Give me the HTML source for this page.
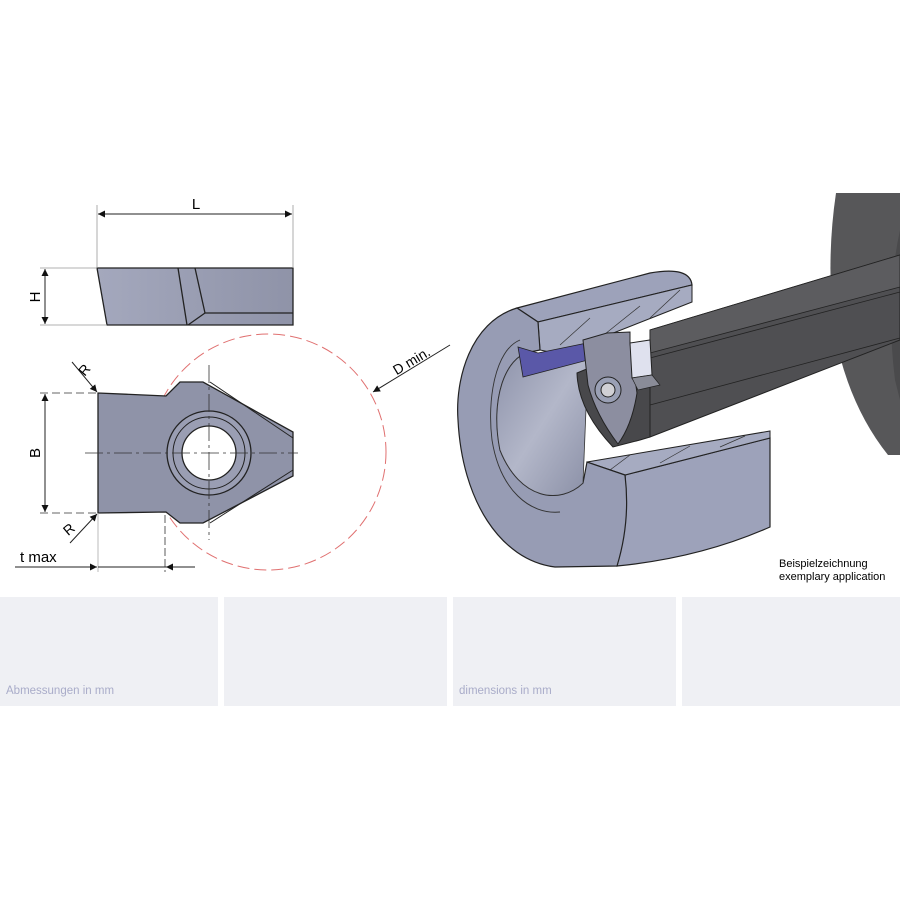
<!DOCTYPE html>
<html><head><meta charset="utf-8"><style>
html,body{margin:0;padding:0;background:#fff;width:900px;height:900px;overflow:hidden}
svg{display:block}
text{font-family:"Liberation Sans",sans-serif}
</style></head><body>
<svg width="900" height="900" viewBox="0 0 900 900" xmlns="http://www.w3.org/2000/svg">
<defs>
<marker id="a" viewBox="0 0 10 10" refX="10" refY="5" markerWidth="9" markerHeight="7" orient="auto-start-reverse" markerUnits="userSpaceOnUse"><path d="M0,0 L10,5 L0,10z" fill="#111"/></marker>
<linearGradient id="ins" x1="0" x2="1"><stop offset="0" stop-color="#a4a8bd"/><stop offset="1" stop-color="#8f93a8"/></linearGradient>
<linearGradient id="bore" x1="0" y1="0" x2="1" y2="1"><stop offset="0" stop-color="#8d92aa"/><stop offset=".5" stop-color="#b3b7c9"/><stop offset="1" stop-color="#8a8fa6"/></linearGradient>
</defs>
<!-- side view -->
<g stroke="#222" stroke-width="1.3">
<polygon points="97,268 293,268 293,325 107,325" fill="url(#ins)"/>
<polyline points="178,268 187,325" fill="none"/>
<polyline points="195,268 205,313 293,313" fill="none"/>
<line x1="205" y1="313" x2="188" y2="325"/>
</g>
<g stroke="#999" stroke-width=".8">
<line x1="97" y1="205" x2="97" y2="268"/><line x1="293" y1="205" x2="293" y2="268"/>
<line x1="40" y1="268" x2="97" y2="268"/><line x1="40" y1="325" x2="107" y2="325"/>
</g>
<g stroke="#222" stroke-width="1" fill="none">
<line x1="98" y1="214" x2="292" y2="214" marker-start="url(#a)" marker-end="url(#a)"/>
<line x1="45" y1="269" x2="45" y2="324" marker-start="url(#a)" marker-end="url(#a)"/>
<line x1="45" y1="394" x2="45" y2="512" marker-start="url(#a)" marker-end="url(#a)"/>
</g>
<text x="196" y="209" font-size="15" text-anchor="middle">L</text>
<text transform="translate(40,297) rotate(-90)" font-size="15" text-anchor="middle">H</text>
<text transform="translate(40,453) rotate(-90)" font-size="15" text-anchor="middle">B</text>
<circle cx="268" cy="452" r="118" fill="none" stroke="#e07070" stroke-width="1" stroke-dasharray="12,5"/>
<g stroke="#222" stroke-width="1.3">
<polygon points="98,393 166,396 180,382 203,382 293,432 293,476 203,523 180,523 166,512 98,513" fill="#8f93a8"/>
<polyline points="210,382 293,438" fill="none" stroke-width="1"/>
<polyline points="210,523 293,470" fill="none" stroke-width="1"/>
<circle cx="209" cy="453" r="42" fill="#9a9eb3"/>
<circle cx="209" cy="453" r="36" fill="none" stroke-width="1"/>
<circle cx="209" cy="453" r="27" fill="#fff"/>
</g>
<g stroke="#333" stroke-width=".8" fill="none">
<line x1="85" y1="453" x2="298" y2="453" stroke-dasharray="18,4,3,4"/>
<line x1="209" y1="365" x2="209" y2="540" stroke-dasharray="18,4,3,4"/>
<line x1="40" y1="393" x2="98" y2="393" stroke-dasharray="8,4"/>
<line x1="40" y1="513" x2="98" y2="513" stroke-dasharray="8,4"/>
<line x1="98" y1="513" x2="98" y2="572" stroke="#aaa"/>
<line x1="165" y1="515" x2="165" y2="572" stroke-dasharray="8,3"/>
</g>
<g stroke="#222" stroke-width="1" fill="none">
<line x1="15" y1="567" x2="97" y2="567" marker-end="url(#a)"/>
<line x1="98" y1="567" x2="195" y2="567"/>
<line x1="195" y1="567" x2="166" y2="567" marker-end="url(#a)"/>
<line x1="72" y1="362" x2="97" y2="392" marker-end="url(#a)"/>
<line x1="70" y1="543" x2="97" y2="514" marker-end="url(#a)"/>
<line x1="450" y1="345" x2="373" y2="392" marker-end="url(#a)"/>
</g>
<text x="20" y="562" font-size="15">t max</text>
<text transform="translate(88,373) rotate(-50)" font-size="14" text-anchor="middle">R</text>
<text transform="translate(72,533) rotate(-40)" font-size="14" text-anchor="middle">R</text>
<text transform="translate(414,365) rotate(-31)" font-size="14" text-anchor="middle">D min.</text>

<!-- 3D illustration -->
<path d="M900,193 L836,193 Q826,260 834,330 Q848,405 888,455 L900,455 Z" fill="#575759"/>
<path d="M900,230 Q885,300 895,380 L900,400Z" fill="#4a4a4c"/>
<!-- shaft -->
<polygon points="650,330 900,255 900,340 650,437" fill="#4f4f52" stroke="#222"/>
<polygon points="650,330 900,255 900,287 650,353" fill="#5c5c5f" stroke="#222" stroke-width=".8"/>
<line x1="650" y1="358" x2="900" y2="292" stroke="#222" stroke-width=".8"/>
<line x1="650" y1="405" x2="900" y2="338" stroke="#222" stroke-width=".8"/>
<!-- lower outer cylinder -->
<path d="M625,475 L770,438 L770,527 Q700,558 617,566 Q628,520 625,475 Z" fill="#9da2ba" stroke="#222" stroke-width="1.2"/>
<!-- lower section -->
<polygon points="587,462 770,431 770,438 625,475" fill="#a6abc1" stroke="#222"/>
<g stroke="#333" stroke-width=".7"><line x1="610" y1="470" x2="630" y2="455"/><line x1="660" y1="463" x2="690" y2="446"/><line x1="720" y1="447" x2="745" y2="436"/></g>
<!-- top outer band -->
<path d="M517,308 L650,273 Q690,266 692,285 L538,322 Z" fill="#9da2ba" stroke="#222" stroke-width="1.2"/>
<!-- top section -->
<polygon points="538,322 692,285 692,302 588,343 588,360 540,350" fill="#a6abc1" stroke="#222"/>
<g stroke="#333" stroke-width=".7"><line x1="560" y1="345" x2="590" y2="318"/><line x1="600" y1="338" x2="640" y2="306"/><line x1="650" y1="318" x2="680" y2="290"/></g>
<!-- front face -->
<path d="M538,322 L517,308 C470,322 455,380 458,420 C462,500 500,560 555,567 L617,566 C628,530 628,500 625,475 L587,462 L583,483 C560,505 520,500 500,450 C490,400 505,357 530,352 L540,350 Z" fill="#979cb4" stroke="#222" stroke-width="1.2"/>
<path d="M520,340 C495,350 487,400 492,440 C500,490 530,515 560,512" fill="none" stroke="#333" stroke-width=".9"/>
<!-- bore -->
<path d="M530,352 C505,357 490,400 500,450 C520,500 560,505 583,483 L588,360 Z" fill="url(#bore)" stroke="#333" stroke-width=".8"/>
<!-- blue groove -->
<polygon points="518,347 538,353 587,343 588,360 523,377" fill="#5a58a8" stroke="#222" stroke-width=".8"/>
<!-- insert -->
<path d="M577,373 Q578,410 613,447 L640,440 L650,437 L650,343 Z" fill="#48484b" stroke="#222"/>
<path d="M583,340 L607,333 L630,332 L630,343 L637,393 Q632,425 618,444 Q596,415 588,385 Z" fill="#8c8ea0" stroke="#222"/>
<circle cx="608" cy="390" r="13" fill="#9aa0b5" stroke="#222"/>
<circle cx="608" cy="390" r="7" fill="#d0d0d5" stroke="#222"/>
<polygon points="630,343 650,340 652,375 632,378" fill="#dfe1ee" stroke="#222"/>
<polygon points="632,378 652,375 660,385 638,390" fill="#8a8c98" stroke="#222" stroke-width=".7"/>
<text x="779" y="567" font-size="11">Beispielzeichnung</text>
<text x="779" y="580" font-size="11">exemplary application</text>
<!-- bottom panels -->
<rect x="0" y="597" width="218" height="109" fill="#eff0f4"/>
<rect x="224" y="597" width="223" height="109" fill="#eff0f4"/>
<rect x="453" y="597" width="223" height="109" fill="#eff0f4"/>
<rect x="682" y="597" width="218" height="109" fill="#eff0f4"/>
<text x="6" y="694" font-size="11.5" fill="#a9acc9">Abmessungen in mm</text>
<text x="459" y="694" font-size="11.5" fill="#a9acc9">dimensions in mm</text>
</svg>
</body></html>
